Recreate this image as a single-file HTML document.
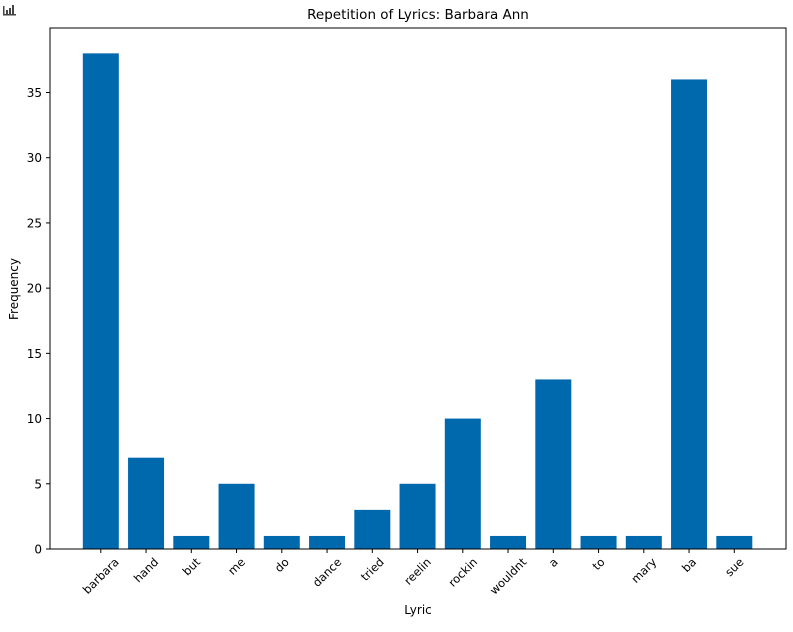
<!DOCTYPE html>
<html><head><meta charset="utf-8"><style>
body{margin:0;background:#fff;width:793px;height:628px;overflow:hidden;font-family:"DejaVu Sans","Liberation Sans",sans-serif;}
</style></head><body>
<svg width="793" height="628" xmlns="http://www.w3.org/2000/svg" id="svg">
<g fill="#444">
<rect x="3" y="6" width="1.5" height="9"/><rect x="6" y="10" width="2" height="5"/><rect x="9" y="8" width="2" height="7"/><rect x="12" y="5" width="2" height="10"/><rect x="3" y="14" width="13" height="1.5"/>
</g>
<text x="418" y="19" text-anchor="middle" font-size="13.5" fill="#000">Repetition of Lyrics: Barbara Ann</text>
<text x="418" y="614" text-anchor="middle" font-size="12" fill="#000">Lyric</text>
<text transform="translate(18,289) rotate(-90)" text-anchor="middle" font-size="12" fill="#000">Frequency</text>
<g id="bars"></g><g id="yt"></g><g id="xt"></g>
<rect x="50" y="28" width="736" height="521" fill="none" stroke="#000" stroke-width="1"/>
</svg>
<script>
const categories=["barbara","hand","but","me","do","dance","tried","reelin","rockin","wouldnt","a","to","mary","ba","sue"];
const values=[38,7,1,5,1,1,3,5,10,1,13,1,1,36,1];
const yTicks=[0,5,10,15,20,25,30,35];
const NS="http://www.w3.org/2000/svg";
function xPos(i){return 100.8+i*45.25;}
function yPos(v){return 549-v*13.043;}
function mk(t,a,p){const e=document.createElementNS(NS,t);for(const k in a)e.setAttribute(k,a[k]);p.appendChild(e);return e;}
const bars=document.getElementById('bars'),yt=document.getElementById('yt'),xt=document.getElementById('xt');
values.forEach((v,i)=>{
 const r=mk('rect',{x:xPos(i)-18,y:yPos(v),width:36,height:yPos(0)-yPos(v),fill:'#0068ad'},bars);
 
 
 const l=mk('line',{x1:xPos(i),x2:xPos(i),y1:549,y2:553,stroke:'#000'},xt);
 
 
 const t=mk('text',{'text-anchor':'middle','dominant-baseline':'central','font-size':'11.5',fill:'#000'},xt);
 t.textContent=categories[i];
 const len=t.getComputedTextLength();
 const h=(len+11)*0.7071;
 t.setAttribute('transform',`translate(${xPos(i)},${556+h/2}) rotate(-45)`);
 
 
});
yTicks.forEach(v=>{
 const l=mk('line',{x1:46,x2:50,y1:yPos(v),y2:yPos(v),stroke:'#000'},yt);
 
 
 const t=mk('text',{x:42,y:yPos(v)+4.5,'text-anchor':'end','font-size':'12',fill:'#000'},yt);
 t.textContent=v;
 
 
});
</script>
</body></html>
